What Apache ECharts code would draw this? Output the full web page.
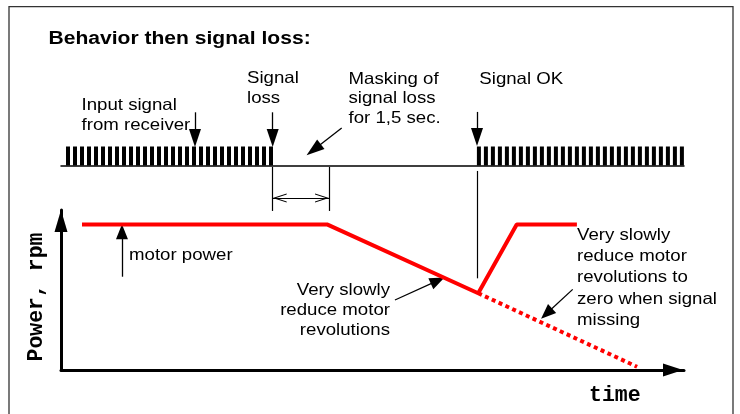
<!DOCTYPE html>
<html>
<head>
<meta charset="utf-8">
<title>Behavior then signal loss</title>
<script src="https://cdn.jsdelivr.net/npm/echarts@6/dist/echarts.min.js"></script>
<style>
  html, body { margin: 0; padding: 0; background: #fff; }
  #chart { width: 740px; height: 414px; }
</style>
</head>
<body>
<div id="chart"></div>
<script>
// time is counted in receiver pulse periods, power in % of full
const pulseTimes = [
  1, 2, 3, 4, 5, 6, 7, 8, 9, 10, 11, 12, 13, 14, 15,
  16, 17, 18, 19, 20, 21, 22, 23, 24, 25, 26, 27, 28, 29, 30,
  59.7, 60.7, 61.7, 62.7, 63.7, 64.7, 65.7, 66.7, 67.7, 68.7,
  69.7, 70.7, 71.7, 72.7, 73.7, 74.7, 75.7, 76.7, 77.7, 78.7,
  79.7, 80.7, 81.7, 82.7, 83.7, 84.7, 85.7, 86.7, 87.7, 88.7
];
const pulseLevel = 1;

const powerTime = [3, 38, 59.6, 65.1, 73.7];
const powerLevel = [91, 91, 48, 91, 91];

// what happens if the signal stays missing
const fadeTime = [59.6, 82.3];
const fadeLevel = [48, 2];

// pointers over the signal strip [time, level] -> [time, level]
const signalPointers = [
  [[19.14, 2.8], [19.14, 1.45]],   // input signal
  [[30.24, 2.8], [30.24, 1.45]],   // signal loss
  [[59.43, 2.82], [59.43, 1.5]],   // signal ok
  [[40.1, 1.97], [36.1, 0.83]]     // masking
];
// pointers in the power graph
const powerPointers = [
  [[8.71, 58.3], [8.71, 86.4]],     // motor power
  [[47.71, 43.75], [53.81, 55.9]],  // slow reduce
  [[73.1, 50.4], [69.37, 35.25]]    // reduce to zero
];
const guideLines = [
  [[59.43, 57.3], [59.43, 124.4]],
  [[30.24, 99.4], [30.24, 126.9]],
  [[38.29, 99.4], [38.29, 126.9]],
  [[30.24, 107.5], [38.29, 107.5]]
];
const maskSpan = [[31.24, 107.5], [37.29, 107.5]];

const sans = 'Liberation Sans, Arial, sans-serif';
const mono = 'Liberation Mono, Courier New, monospace';

function note(text, x, y, align, lh) {
    return {
        type: 'text',
        x: x,
        y: y,
        scaleX: 1.13,
        style: {
            text: text,
            fill: '#000',
            fontFamily: sans,
            fontSize: 16.5,
            align: align,
            verticalAlign: 'top',
            lineHeight: lh
        }
    };
}

const chart = echarts.init(document.getElementById('chart'));

const hiddenBits = {
    axisTick: { show: false },
    axisLabel: { show: false },
    splitLine: { show: false }
};

chart.setOption({
    animation: false,
    grid: [
        { left: 61, top: 146.5, width: 623, height: 19 },
        { left: 61, top: 210, width: 623, height: 160 }
    ],
    xAxis: [
        Object.assign({
            gridIndex: 0, type: 'value', min: 0, max: 89,
            axisLine: { show: true, lineStyle: { color: '#000', width: 1.5 } }
        }, hiddenBits),
        Object.assign({
            gridIndex: 1, type: 'value', min: 0, max: 89,
            axisLine: {
                show: true,
                symbol: ['none', 'triangle'],
                symbolSize: [13, 20],
                symbolOffset: [0, -11],
                lineStyle: { color: '#000', width: 3 }
            }
        }, hiddenBits)
    ],
    yAxis: [
        { gridIndex: 0, type: 'value', min: 0, max: 1, show: false },
        Object.assign({
            gridIndex: 1, type: 'value', min: 0, max: 100,
            axisLine: {
                show: true,
                symbol: ['none', 'triangle'],
                symbolSize: [13, 22],
                symbolOffset: [0, -11],
                lineStyle: { color: '#000', width: 3 }
            }
        }, hiddenBits)
    ],
    series: [
        {
            type: 'bar',
            xAxisIndex: 0,
            yAxisIndex: 0,
            barWidth: 4,
            itemStyle: { color: '#000' },
            data: pulseTimes.map(t => [t, pulseLevel])
        },
        {
            type: 'line',
            xAxisIndex: 1,
            yAxisIndex: 1,
            symbol: 'none',
            lineStyle: { color: '#ff0000', width: 4 },
            data: powerTime.map((t, i) => [t, powerLevel[i]])
        },
        {
            type: 'line',
            xAxisIndex: 1,
            yAxisIndex: 1,
            symbol: 'none',
            lineStyle: { color: '#ff0000', width: 4, type: [4, 3.5], cap: 'butt' },
            data: fadeTime.map((t, i) => [t, fadeLevel[i]])
        },
        {
            type: 'lines',
            coordinateSystem: 'cartesian2d',
            xAxisIndex: 0,
            yAxisIndex: 0,
            clip: false,
            symbol: ['none', 'triangle'],
            symbolSize: [[12, 18], [12, 18]],
            lineStyle: { color: '#000', width: 1.3, opacity: 1 },
            data: signalPointers.map(c => ({ coords: c }))
        },
        {
            type: 'lines',
            coordinateSystem: 'cartesian2d',
            xAxisIndex: 1,
            yAxisIndex: 1,
            clip: false,
            symbol: ['none', 'triangle'],
            symbolSize: [[12, 15], [12, 15]],
            lineStyle: { color: '#000', width: 1.3, opacity: 1 },
            data: powerPointers.map(c => ({ coords: c }))
        },
        {
            type: 'lines',
            coordinateSystem: 'cartesian2d',
            xAxisIndex: 1,
            yAxisIndex: 1,
            clip: false,
            symbol: 'none',
            lineStyle: { color: '#000', width: 1.2, opacity: 1 },
            data: guideLines.map(c => ({ coords: c }))
        },
        {
            type: 'lines',
            coordinateSystem: 'cartesian2d',
            xAxisIndex: 1,
            yAxisIndex: 1,
            clip: false,
            symbol: 'path://M0,10L5,0L10,10L8.8,10L5,2.4L1.2,10Z',
            symbolSize: [[9, 14], [9, 14]],
            lineStyle: { color: '#000', width: 1.2, opacity: 1 },
            data: [{ coords: maskSpan }]
        }
    ],
    graphic: [
        {
            type: 'rect',
            shape: { x: 9, y: 6.7, width: 724, height: 420 },
            style: { fill: 'none', stroke: '#333', lineWidth: 1.3 }
        },
        {
            type: 'text',
            x: 48.5,
            y: 38.6,
            scaleX: 1.17,
            style: {
                text: 'Behavior then signal loss:',
                fill: '#000',
                fontFamily: sans,
                fontSize: 18,
                fontWeight: 'bold',
                verticalAlign: 'middle'
            }
        },
        note('Input signal\nfrom receiver', 81.5, 95, 'left', 20),
        note('Signal\nloss', 247, 69, 'left', 19.5),
        note('Masking of\nsignal loss\nfor 1,5 sec.', 348.5, 69.3, 'left', 19.5),
        note('Signal OK', 479.3, 69, 'left', 20),
        note('motor power', 129, 245.8, 'left', 20),
        note('Very slowly\nreduce motor\nrevolutions', 390, 280.1, 'right', 20),
        note('Very slowly\nreduce motor\nrevolutions to\nzero when signal\nmissing', 577, 225.2, 'left', 21.1),
        {
            type: 'text',
            x: 37,
            y: 297,
            rotation: Math.PI / 2,
            style: {
                text: 'Power, rpm',
                fill: '#000',
                fontFamily: mono,
                fontSize: 21.5,
                fontWeight: 'bold',
                align: 'center',
                verticalAlign: 'middle'
            }
        },
        {
            type: 'text',
            x: 589,
            y: 396,
            style: {
                text: 'time',
                fill: '#000',
                fontFamily: mono,
                fontSize: 21.5,
                fontWeight: 'bold',
                verticalAlign: 'middle'
            }
        }
    ]
});
</script>
</body>
</html>
